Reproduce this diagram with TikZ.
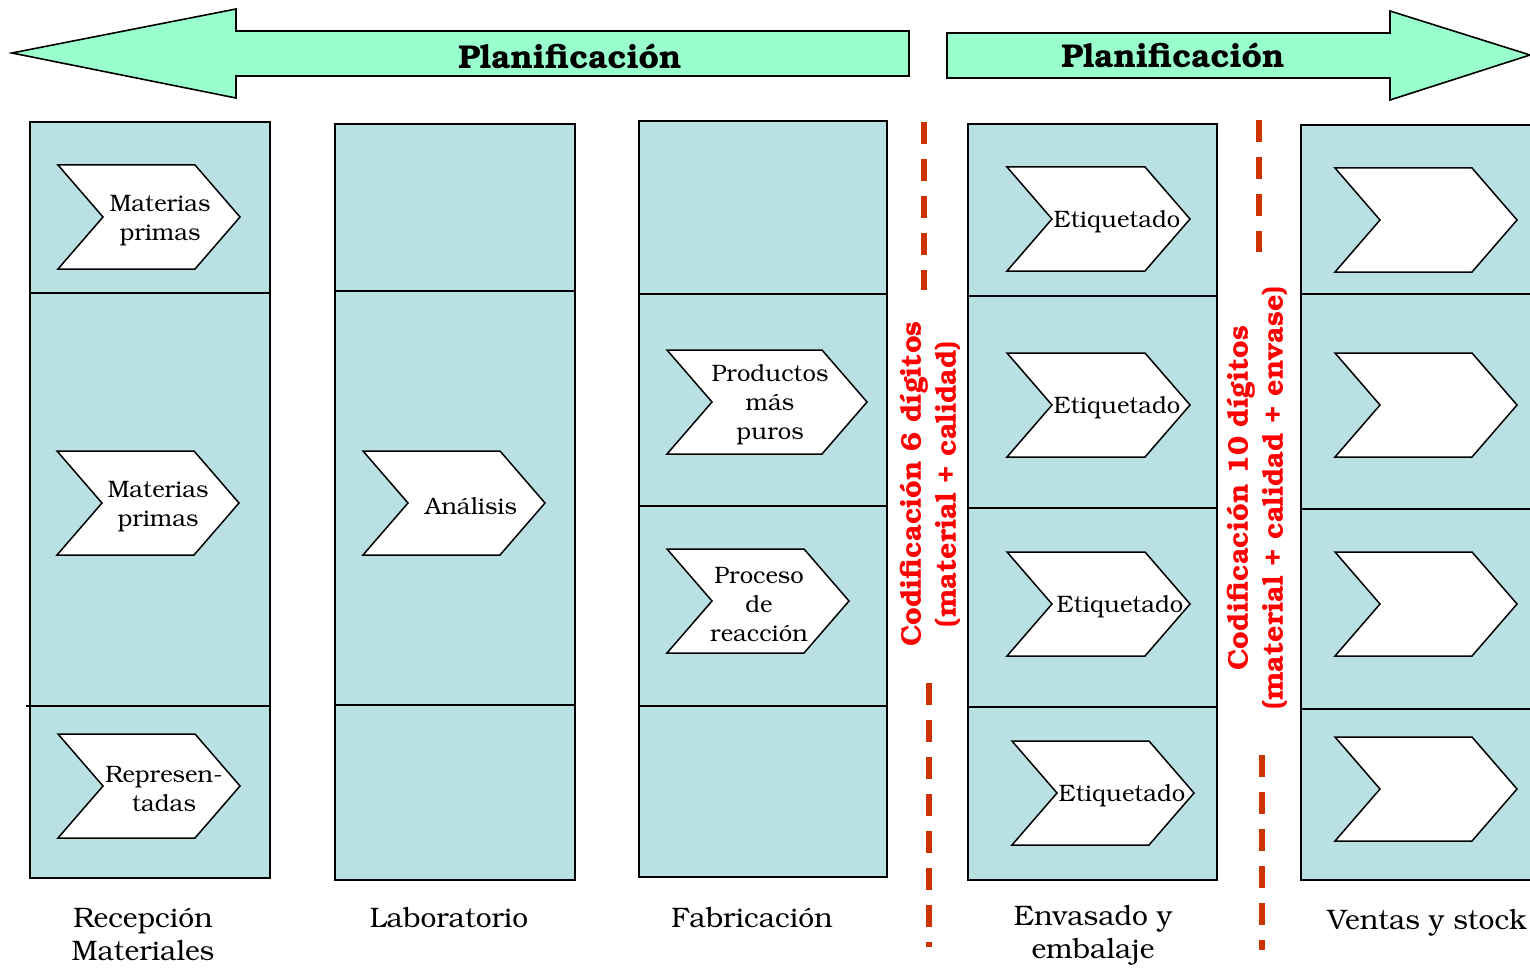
\documentclass[tikz,border=0pt]{standalone}
\usepackage[T1]{fontenc}
\usepackage{bookman}
\usetikzlibrary{calc}

\definecolor{planGreen}{RGB}{153,255,204}
\definecolor{laneBlue}{RGB}{185,224,227}
\definecolor{cutRed}{RGB}{204,51,0}

% chevron: (left,top:width:text shift)[name]{text}
\def\chevron(#1,#2:#3:#4)[#5]#6{%
  \draw[chev] (#1,#2) -- ++(#3-45,0) -- ++(45,52) -- ++(-45,52) -- ++(45-#3,0) -- ++(45,-52) -- cycle;
  \node[chevtext] (#5) at (#1+#4,#2+55) {#6};}

\begin{document}
\begin{tikzpicture}[x=0.5pt,y=-0.5pt,
    lane/.style={fill=laneBlue},
    laneline/.style={draw=black,line width=0.9pt},
    chev/.style={draw=black,line width=0.75pt,fill=white},
    chevtext/.style={align=center,font=\fontsize{11.9}{14.5}\selectfont},
    banner/.style={draw=black,line width=0.8pt,fill=planGreen},
    bannertext/.style={font=\bfseries\fontsize{16.5}{20}\selectfont},
    cut/.style={draw=cutRed,line width=2.75pt,dash pattern=on 11pt off 7.5pt},
    code/.style={text=red,font=\bfseries\fontsize{14.3}{17.5}\selectfont,align=center,rotate=90},
    lanelabel/.style={align=center,font=\fontsize{14.1}{16.5}\selectfont}]
  \useasboundingbox (0,0) rectangle (1530,968);

  %%% planning arrows
  \draw[banner] (12,53) -- (236,9) -- (236,31) -- (909,31) -- (909,76) -- (236,76) -- (236,98) -- cycle;
  \node[bannertext] (planL) at (570,56) {Planificación};
  \draw[banner] (947,33) -- (1390,33) -- (1390,11) -- (1530,55) -- (1390,100) -- (1390,78) -- (947,78) -- cycle;
  \node[bannertext] (planR) at (1173,55) {Planificación};

  %%% lanes
  \draw[lane,laneline] (30,122) rectangle (270,878);
  \draw[laneline] (30,293) -- (270,293);
  \draw[laneline] (26,706) -- (270,706);

  \draw[lane,laneline] (335,124) rectangle (575,880);
  \draw[laneline] (335,291) -- (575,291);
  \draw[laneline] (335,705) -- (575,705);

  \draw[lane,laneline] (639,121) rectangle (887,877);
  \draw[laneline] (639,294) -- (887,294);
  \draw[laneline] (639,506) -- (887,506);
  \draw[laneline] (639,706) -- (887,706);

  \draw[lane,laneline] (968,124) rectangle (1217,880);
  \draw[laneline] (968,296) -- (1217,296);
  \draw[laneline] (968,508) -- (1217,508);
  \draw[laneline] (968,707) -- (1217,707);

  \fill[lane] (1301,125) rectangle (1530,880);
  \draw[laneline] (1530,125) -- (1301,125) -- (1301,880) -- (1530,880);
  \draw[laneline] (1301,294) -- (1530,294);
  \draw[laneline] (1301,509) -- (1530,509);
  \draw[laneline] (1301,709) -- (1530,709);

  %%% steps
  \chevron(58,165:182:102)[mp1]{Materias\\primas}
  \chevron(57,451:182:101)[mp2]{Materias\\primas}
  \chevron(58,734:182:106)[repr]{Represen-\\tadas}

  \chevron(363,451:182:108)[anal]{Análisis}

  \chevron(667,350:200:103)[prod]{Productos\\más\\puros}
  \chevron(667,549:182:92)[proc]{Proceso\\de\\reacción}

  \chevron(1007,167:183:110)[etq1]{Etiquetado}
  \chevron(1007,353:183:110)[etq2]{Etiquetado}
  \chevron(1007,552:183:113)[etq3]{Etiquetado}
  \chevron(1012,741:182:110)[etq4]{Etiquetado}

  \chevron(1335,168:182:105)[vs1]{}
  \chevron(1335,353:182:105)[vs2]{}
  \chevron(1335,552:182:105)[vs3]{}
  \chevron(1335,737:182:105)[vs4]{}

  %%% coding cuts
  \draw[cut] (924,122) -- (924,290);
  \draw[cut] (929,683) -- (929,947);
  \draw[cut] (1259,120) -- (1259,252);
  \draw[cut] (1262,755) -- (1262,950);
  \node[code] (code6) at (930,484) {Codificación 6 dígitos\\(material + calidad)};
  \node[code] (code10) at (1257,498) {Codificación 10 dígitos\\(material + calidad + envase)};

  %%% lane names
  \node[lanelabel] (recepcion) at (143,934) {Recepción\\Materiales};
  \node[lanelabel] (laboratorio) at (449,918) {Laboratorio};
  \node[lanelabel] (fabricacion) at (752,918) {Fabricación};
  \node[lanelabel] (envasado) at (1093,936) {Envasado y\\embalaje};
  \node[lanelabel] (ventas) at (1427,923) {Ventas y stock};
\end{tikzpicture}
\end{document}
